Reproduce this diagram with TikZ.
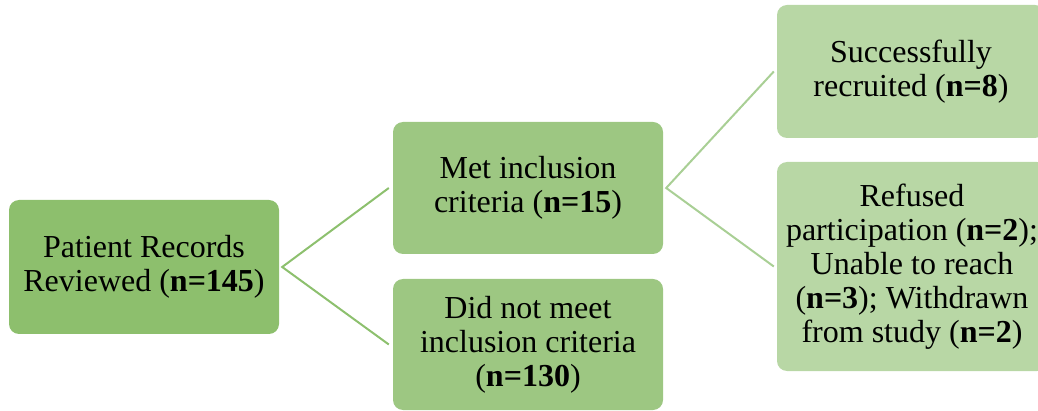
\documentclass[tikz,border=0pt]{standalone}
\usepackage{fontspec}
\setmainfont{Liberation Serif}
\definecolor{darkgreen}{HTML}{8DBF6D}
\definecolor{midgreen}{HTML}{9DC782}
\definecolor{lightgreen}{HTML}{B8D7A5}
\definecolor{linkone}{HTML}{8DC06E}
\definecolor{linktwo}{HTML}{A9CF95}
\tikzset{
  box/.style={rounded corners=10pt, inner sep=0pt, align=center,
    text=black, font=\fontsize{32}{34}\selectfont},
  link/.style={line width=2pt}
}
\begin{document}
\begin{tikzpicture}[x=1pt,y=-1pt]
\clip (0,0) rectangle (1038,411);
\useasboundingbox (0,0) rectangle (1038,411);
% first level
\node[box, fill=darkgreen, minimum width=270pt, minimum height=134pt] (rec) at (144,267)
  {Patient Records\\Reviewed (\textbf{n=145})};
% second level
\node[box, fill=midgreen, minimum width=270pt, minimum height=132pt] (met) at (528,188)
  {Met inclusion\\criteria (\textbf{n=15})};
\node[box, fill=midgreen, minimum width=270pt, minimum height=131pt] (notmet) at (528,344.5)
  {Did not meet\\inclusion criteria\\(\textbf{n=130})};
% third level
\node[box, fill=lightgreen, minimum width=268pt, minimum height=133pt] (ok) at (911,71.5)
  {Successfully\\recruited (\textbf{n=8})};
\node[box, fill=lightgreen, minimum width=270pt, minimum height=209pt] (lost) at (912,266.5)
  {Refused\\participation (\textbf{n=2});\\Unable to reach\\(\textbf{n=3}); Withdrawn\\from study (\textbf{n=2})};
% connectors
\draw[link, linkone] ([xshift=-4pt]met.west) -- ([xshift=3pt]rec.east) -- ([xshift=-4pt]notmet.west);
\draw[link, linktwo] ([xshift=-3pt]ok.west) -- ([xshift=3pt]met.east) -- ([xshift=-3pt]lost.west);
\end{tikzpicture}
\end{document}
